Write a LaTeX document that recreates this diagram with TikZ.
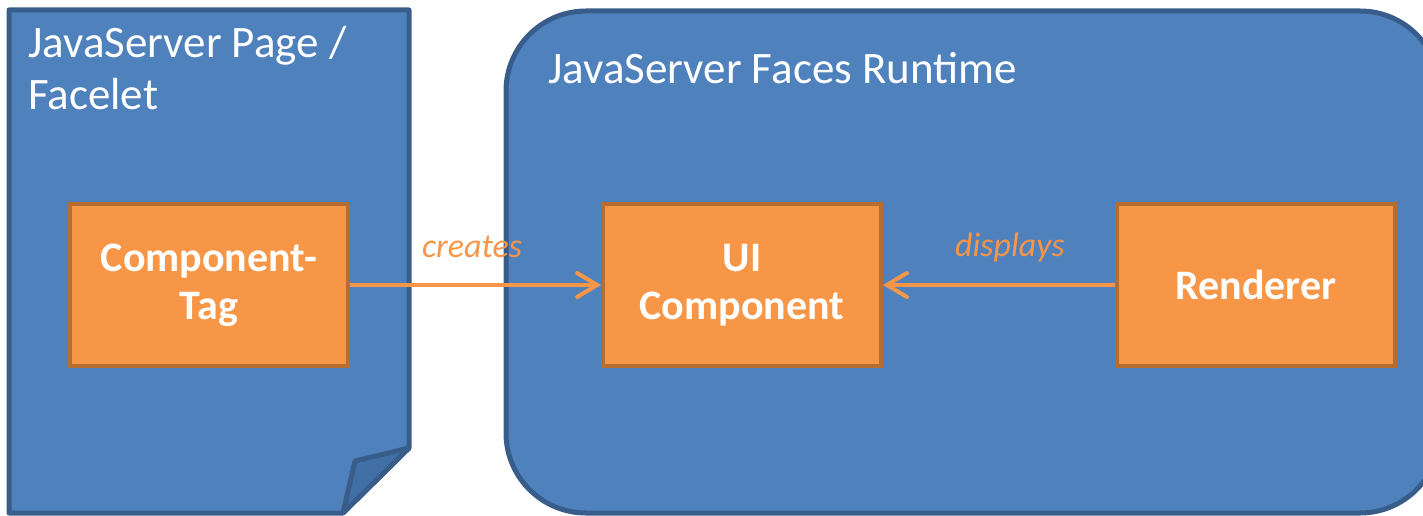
\documentclass[tikz,border=0pt]{standalone}
\usepackage{fontspec}
\setmainfont{Carlito}
\usetikzlibrary{arrows.meta}
\definecolor{bfill}{HTML}{4F81BD}
\definecolor{bline}{HTML}{385D8A}
\definecolor{bfold}{HTML}{416FA6}
\definecolor{ofill}{HTML}{F79646}
\definecolor{oline}{HTML}{B66D31}
\tikzset{
  container/.style={fill=bfill, draw=bline, line width=5pt, line join=round},
  comp/.style={fill=ofill, draw=oline, line width=4pt, minimum width=278pt, minimum height=162pt,
    inner sep=0pt, align=center, text=white, font=\fontsize{42}{48}\selectfont\bfseries},
  title/.style={anchor=base west, inner sep=0pt, text=white, font=\fontsize{45}{52}\selectfont},
  flow/.style={draw=ofill, line width=4pt, -{Straight Barb[length=20pt,width=24pt,line cap=round]}},
  lbl/.style={text=ofill, inner sep=0pt, font=\fontsize{34}{40}\selectfont\itshape}
}
\begin{document}
\begin{tikzpicture}[x=1pt,y=-1pt]
\useasboundingbox (0,0) rectangle (1423,516);
\clip (0,0) rectangle (1423,516);
% left page with folded corner
\draw[container] (9,10) -- (409,10) -- (409,448) -- (343,513) -- (9,513) -- cycle;
\draw[container, fill=bfold] (409,448) -- (355,461) -- (343,513) -- cycle;
\node[title] (t1a) at (28,58) {JavaServer Page /};
\node[title] (t1b) at (28,110) {Facelet};
% runtime container
\draw[container, rounded corners=80pt] (506,11) rectangle (1440,513);
\node[title] (t2) at (548,84) {JavaServer Faces Runtime};
% components
\node[comp] (tag) at (209,285) {Component-\\Tag};
\node[comp] (ui) at (742,285) {UI\\Component};
\node[comp] (rend) at (1256,285) {Renderer};
% connectors
\draw[flow] (tag.east) -- (ui.west);
\draw[flow] (rend.west) -- (ui.east);
\node[lbl] (l1) at (472,247) {creates};
\node[lbl] (l2) at (1010,247) {displays};
\end{tikzpicture}
\end{document}
